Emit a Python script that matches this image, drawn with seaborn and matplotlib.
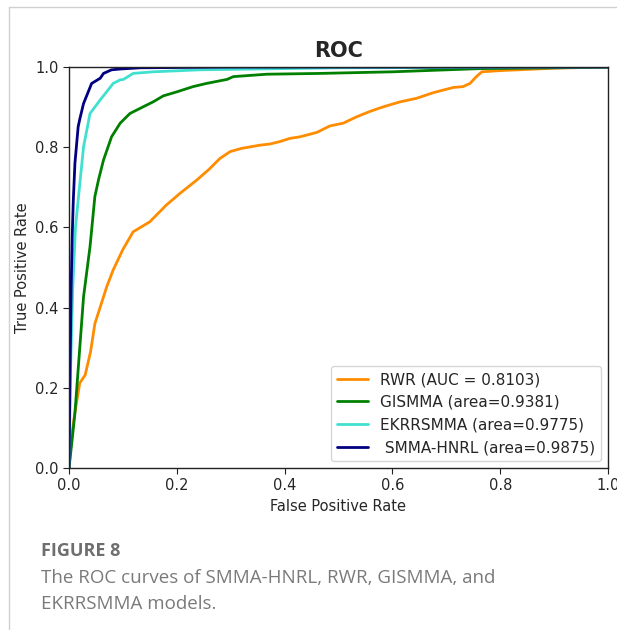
import matplotlib
matplotlib.use("Agg")
import matplotlib.pyplot as plt
from matplotlib.lines import Line2D
import seaborn as sns
import pandas as pd

# ---- data ----
rwr_fpr = [0, 0.005, 0.01, 0.02, 0.03, 0.04, 0.048, 0.06, 0.07, 0.082, 0.1, 0.119, 0.15, 0.18,
           0.206, 0.237, 0.26, 0.28, 0.299, 0.32, 0.354, 0.373, 0.391, 0.41, 0.429, 0.46, 0.484,
           0.509, 0.534, 0.558, 0.577, 0.589, 0.614, 0.645, 0.676, 0.713, 0.731, 0.744, 0.755,
           0.766, 0.8, 0.9, 1.0]
rwr_tpr = [0, 0.08, 0.13, 0.212, 0.232, 0.29, 0.36, 0.41, 0.452, 0.494, 0.545, 0.589, 0.614, 0.655,
           0.685, 0.718, 0.745, 0.772, 0.789, 0.797, 0.805, 0.808, 0.814, 0.822, 0.826, 0.837, 0.853,
           0.86, 0.876, 0.889, 0.898, 0.903, 0.913, 0.922, 0.936, 0.949, 0.951, 0.959, 0.975,
           0.988, 0.991, 0.997, 1.0]

gis_fpr = [0, 0.005, 0.011, 0.02, 0.027, 0.039, 0.048, 0.055, 0.064, 0.079, 0.095, 0.113, 0.138,
           0.156, 0.175, 0.2, 0.23, 0.255, 0.293, 0.305, 0.367, 0.466, 0.6, 0.763, 0.9, 1.0]
gis_tpr = [0, 0.06, 0.137, 0.3, 0.427, 0.552, 0.677, 0.72, 0.768, 0.826, 0.86, 0.884, 0.901,
           0.913, 0.928, 0.938, 0.951, 0.959, 0.969, 0.976, 0.982, 0.984, 0.988, 0.996, 0.998, 1.0]

ekr_fpr = [0, 0.003, 0.007, 0.012, 0.017, 0.027, 0.039, 0.058, 0.082, 0.095, 0.101, 0.119, 0.156,
           0.243, 0.5, 1.0]
ekr_tpr = [0, 0.25, 0.45, 0.6, 0.668, 0.801, 0.884, 0.918, 0.959, 0.968, 0.969, 0.984, 0.988,
           0.993, 0.998, 1.0]

smma_fpr = [0, 0.002, 0.004, 0.006, 0.008, 0.011, 0.017, 0.02, 0.027, 0.042, 0.058, 0.064, 0.079,
            0.095, 0.132, 0.3, 1.0]
smma_tpr = [0, 0.25, 0.45, 0.58, 0.668, 0.76, 0.851, 0.87, 0.909, 0.959, 0.972, 0.984, 0.993,
            0.995, 0.998, 1.0, 1.0]

labels = ["RWR (AUC = 0.8103)", "GISMMA (area=0.9381)",
          "EKRRSMMA (area=0.9775)", " SMMA-HNRL (area=0.9875)"]
colors = ["darkorange", "green", "turquoise", "navy"]
xticks = [0.0, 0.2, 0.4, 0.6, 0.8, 1.0]
yticks = [0.0, 0.2, 0.4, 0.6, 0.8, 1.0]

caption_head = "FIGURE 8"
caption_lines = ["The ROC curves of SMMA-HNRL, RWR, GISMMA, and", "EKRRSMMA models."]

# ---- plot ----
sns.set_style("ticks")
plt.rcParams["font.family"] = ["DejaVu Sans"]

fig = plt.figure(figsize=(6.17, 6.30), dpi=100)
ax = fig.add_axes([69 / 617, 1 - 468 / 630, (608 - 69) / 617, (468 - 67) / 630])

series = [(rwr_fpr, rwr_tpr), (gis_fpr, gis_tpr), (ekr_fpr, ekr_tpr), (smma_fpr, smma_tpr)]
for (fx, ty), lab, col in zip(series, labels, colors):
    df = pd.DataFrame({"fpr": fx, "tpr": ty})
    sns.lineplot(data=df, x="fpr", y="tpr", ax=ax, color=col, lw=2.0, label=lab,
                 sort=False, estimator=None)

ax.set_xlim(0.0, 1.0)
ax.set_ylim(0.0, 1.0)
ax.set_xticks(xticks)
ax.set_yticks(yticks)
ax.tick_params(labelsize=10.5, color="#222222", length=4)
for s in ax.spines.values():
    s.set_visible(True)
    s.set_color("#222222")
    s.set_linewidth(1.0)
ax.set_xlabel("False Positive Rate", fontsize=10.5)
ax.set_ylabel("True Positive Rate", fontsize=10.5)
ax.set_title("ROC", fontsize=15, fontweight="bold", pad=7)
leg = ax.legend(loc="lower right", fontsize=11, frameon=True, borderaxespad=0.45,
                handlelength=2.0)
leg.get_frame().set_edgecolor("#cccccc")

# frame of the figure panel
fig.add_artist(Line2D([9 / 617, 9 / 617], [0, 1 - 7 / 630], color="#d0d0d0", lw=1.0))
fig.add_artist(Line2D([9 / 617, 1], [1 - 7 / 630, 1 - 7 / 630], color="#d0d0d0", lw=1.0))

cap_font = ["Open Sans", "DejaVu Sans"]
fig.text(41 / 617, 1 - 556 / 630, caption_head, fontsize=13, fontweight="bold",
         color="#6e6e6e", family=cap_font, va="baseline", ha="left")
for i, line in enumerate(caption_lines):
    fig.text(41 / 617, 1 - (583 + 26 * i) / 630, line, fontsize=13.5, color="#7a7a7a",
             family=cap_font, va="baseline", ha="left")

fig.savefig("out.png", dpi=100)
